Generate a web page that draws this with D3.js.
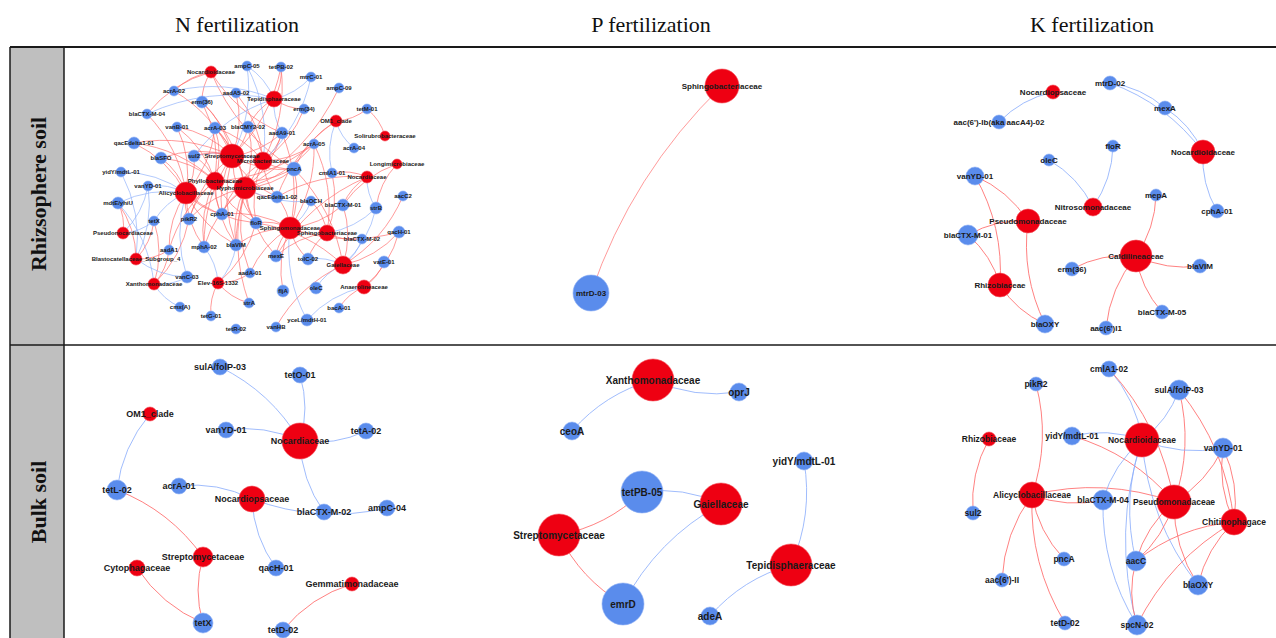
<!DOCTYPE html>
<html>
<head>
<meta charset="utf-8">
<script src="https://cdn.jsdelivr.net/npm/d3@7"></script>
<style>
  html, body { margin: 0; padding: 0; background: #fff; }
  svg { display: block; }
</style>
</head>
<body>
<svg id="fig" width="1276" height="638"></svg>
<script>
// ---- Figure headers ----
const columnTitles = ["N fertilization", "P fertilization", "K fertilization"];
const rowTitles = ["Rhizsophere soil", "Bulk soil"];

// ---- Networks: nodes [label, kind ("t" taxon / "g" gene), x, y, size] in panel layout units ----
// ---- Edges [source, target, sign ("p" positive / "n" negative)]; curves bow to the right of source -> target ----

const nRhizoNodes = [
  ["Nocardioidaceae","t",146,25,6], ["ampC-05","g",182,19,5], ["tetPB-02","g",216,20,5],
  ["mtrC-01","g",246,30,5], ["acrA-02","g",109,44,5], ["aadA5-02","g",171,46,5],
  ["Tepidisphaeraceae","t",209,52,8], ["ampC-09","g",274,41,5], ["erm(36)","g",137,55,6],
  ["erm(34)","g",239,62,5], ["tetM-01","g",302,62,5], ["blaCTX-M-04","g",82,67,5],
  ["vanB-01","g",112,80,5], ["acrA-03","g",150,81,6], ["blaCMY2-02","g",183,80,6],
  ["OM1_clade","t",271,74,6], ["aadA9-01","g",217,86,6], ["Solirubrobacteraceae","t",320,89,5],
  ["qacEdelta1-01","g",69,96,6], ["acrA-05","g",249,97,5], ["acrA-04","g",289,101,5],
  ["blaSFO","g",96,111,6], ["sul2","g",129,109,6], ["Streptomycetaceae","t",167,109,12],
  ["Microbacteriaceae","t",198,114,9], ["Longimicrobiaceae","t",332,117,5], ["yidY/mdtL-01","g",56,125,5],
  ["pncA","g",229,122,7], ["cmlA1-01","g",267,126,5], ["Nocardiaceae","t",302,130,6],
  ["Phyllobacteriaceae","t",150,134,9], ["vanYD-01","g",83,139,5], ["Alicyclobacillaceae","t",121,146,11],
  ["Hyphomicrobiaceae","t",180,141,11], ["aacC2","g",338,149,5], ["qacEdelta1-02","g",212,150,6],
  ["blaOCH","g",246,154,5], ["blaCTX-M-01","g",278,158,6], ["mdtE/yhiU","g",53,156,6],
  ["strB","g",311,161,6], ["tetX","g",89,174,5], ["pikR2","g",124,172,6],
  ["cphA-01","g",157,167,6], ["floR","g",191,176,6], ["Sphingomonadaceae","t",225,181,11],
  ["Sphingobacteriaceae","t",262,186,8], ["Pseudonocardiaceae","t",58,186,6], ["blaCTX-M-02","g",297,192,5],
  ["qacH-01","g",334,185,6], ["aadA1","g",104,203,5], ["mphA-02","g",139,200,6],
  ["blaVIM","g",171,198,6], ["mexE","g",211,209,6], ["tolC-02","g",243,212,6],
  ["Blastocatellaceae_Subgroup_4","t",71,212,6], ["Gaiellaceae","t",278,218,9], ["vatE-01","g",319,215,6],
  ["aadA-01","g",185,226,5], ["vanC-03","g",122,230,6], ["Elev-16S-1332","t",153,236,6],
  ["Xanthomonadaceae","t",89,237,6], ["fljA","g",218,244,6], ["oleC","g",251,241,6],
  ["Anaerolineaceae","t",299,240,7], ["strA","g",184,256,5], ["cmx(A)","g",115,260,5],
  ["bacA-01","g",274,261,5], ["tetG-01","g",146,269,5], ["yceL/mdtH-01","g",242,273,6],
  ["tetR-02","g",171,282,5], ["vanHB","g",211,280,5]
];
const nRhizoEdges = [
  ["Nocardioidaceae","erm(36)","p"], ["Nocardioidaceae","acrA-02","p"], ["Nocardioidaceae","aadA9-01","p"],
  ["Nocardioidaceae","pncA","p"], ["Nocardioidaceae","blaCTX-M-04","p"],
  ["Tepidisphaeraceae","tetPB-02","p"], ["Tepidisphaeraceae","mtrC-01","n"], ["Tepidisphaeraceae","erm(34)","p"],
  ["Tepidisphaeraceae","ampC-05","n"], ["Tepidisphaeraceae","blaCMY2-02","p"], ["Tepidisphaeraceae","sul2","n"],
  ["Tepidisphaeraceae","aadA9-01","n"], ["Tepidisphaeraceae","acrA-02","n"], ["Tepidisphaeraceae","blaCTX-M-04","n"],
  ["OM1_clade","tetM-01","p"], ["OM1_clade","acrA-04","n"], ["OM1_clade","cmlA1-01","n"],
  ["OM1_clade","pncA","p"], ["OM1_clade","qacEdelta1-02","p"], ["Solirubrobacteraceae","tetM-01","p"],
  ["Longimicrobiaceae","strB","p"], ["Longimicrobiaceae","blaCTX-M-01","p"],
  ["Nocardiaceae","cmlA1-01","p"], ["Nocardiaceae","strB","n"], ["Nocardiaceae","blaCTX-M-01","p"],
  ["Nocardiaceae","qacEdelta1-02","p"], ["Nocardiaceae","mexE","p"],
  ["Gaiellaceae","blaCTX-M-02","n"], ["Gaiellaceae","qacH-01","p"], ["Gaiellaceae","strB","n"],
  ["Gaiellaceae","oleC","n"], ["Gaiellaceae","tolC-02","n"], ["Gaiellaceae","vanHB","p"],
  ["Gaiellaceae","blaCTX-M-01","p"], ["Gaiellaceae","aacC2","p"], ["Gaiellaceae","pncA","p"], ["Gaiellaceae","floR","p"],
  ["Anaerolineaceae","vatE-01","p"], ["Anaerolineaceae","bacA-01","p"], ["Anaerolineaceae","yceL/mdtH-01","n"],
  ["Anaerolineaceae","qacH-01","p"],
  ["Sphingobacteriaceae","strB","n"], ["Sphingobacteriaceae","blaOCH","p"], ["Sphingobacteriaceae","cmlA1-01","p"],
  ["Sphingobacteriaceae","acrA-05","p"], ["Sphingobacteriaceae","tolC-02","p"], ["Sphingobacteriaceae","blaCTX-M-02","p"],
  ["Sphingobacteriaceae","mexE","p"],
  ["Sphingomonadaceae","pncA","p"], ["Sphingomonadaceae","qacEdelta1-02","p"], ["Sphingomonadaceae","floR","p"],
  ["Sphingomonadaceae","mexE","p"], ["Sphingomonadaceae","fljA","p"], ["Sphingomonadaceae","tolC-02","p"],
  ["Sphingomonadaceae","aadA-01","p"], ["Sphingomonadaceae","blaVIM","p"], ["Sphingomonadaceae","acrA-05","p"],
  ["Sphingomonadaceae","blaCTX-M-01","p"], ["Sphingomonadaceae","cphA-01","p"], ["Sphingomonadaceae","qacH-01","p"],
  ["Sphingomonadaceae","aadA9-01","p"], ["Sphingomonadaceae","blaOCH","n"], ["Sphingomonadaceae","yceL/mdtH-01","n"],
  ["Hyphomicrobiaceae","pncA","p"], ["Hyphomicrobiaceae","qacEdelta1-02","p"], ["Hyphomicrobiaceae","cphA-01","p"],
  ["Hyphomicrobiaceae","floR","p"], ["Hyphomicrobiaceae","blaVIM","p"], ["Hyphomicrobiaceae","mphA-02","p"],
  ["Hyphomicrobiaceae","aadA9-01","p"], ["Hyphomicrobiaceae","ampC-09","p"], ["Hyphomicrobiaceae","acrA-05","p"],
  ["Hyphomicrobiaceae","blaCMY2-02","p"], ["Hyphomicrobiaceae","mexE","p"], ["Hyphomicrobiaceae","strA","p"],
  ["Hyphomicrobiaceae","aadA-01","p"], ["Hyphomicrobiaceae","pikR2","p"], ["Hyphomicrobiaceae","acrA-03","p"],
  ["Hyphomicrobiaceae","erm(36)","p"], ["Hyphomicrobiaceae","blaOCH","n"],
  ["Microbacteriaceae","aadA5-02","p"], ["Microbacteriaceae","blaCMY2-02","p"], ["Microbacteriaceae","erm(34)","p"],
  ["Microbacteriaceae","aadA9-01","p"], ["Microbacteriaceae","acrA-05","p"], ["Microbacteriaceae","pncA","p"],
  ["Microbacteriaceae","qacEdelta1-02","p"], ["Microbacteriaceae","cphA-01","p"], ["Microbacteriaceae","floR","p"],
  ["Microbacteriaceae","tetPB-02","p"], ["Microbacteriaceae","ampC-05","n"], ["Microbacteriaceae","mtrC-01","n"],
  ["Microbacteriaceae","sul2","n"], ["Microbacteriaceae","acrA-03","p"], ["Microbacteriaceae","blaVIM","p"],
  ["Streptomycetaceae","erm(36)","p"], ["Streptomycetaceae","acrA-03","p"], ["Streptomycetaceae","blaCMY2-02","p"],
  ["Streptomycetaceae","aadA9-01","p"], ["Streptomycetaceae","sul2","p"], ["Streptomycetaceae","qacEdelta1-01","p"],
  ["Streptomycetaceae","blaSFO","p"], ["Streptomycetaceae","vanB-01","p"], ["Streptomycetaceae","acrA-02","p"],
  ["Streptomycetaceae","aadA5-02","p"], ["Streptomycetaceae","cphA-01","p"], ["Streptomycetaceae","pncA","p"],
  ["Streptomycetaceae","floR","p"], ["Streptomycetaceae","pikR2","p"], ["Streptomycetaceae","blaVIM","p"],
  ["Streptomycetaceae","mphA-02","p"], ["Streptomycetaceae","qacEdelta1-02","p"], ["Streptomycetaceae","ampC-05","n"],
  ["Streptomycetaceae","tetPB-02","p"],
  ["Phyllobacteriaceae","acrA-03","p"], ["Phyllobacteriaceae","sul2","p"], ["Phyllobacteriaceae","pikR2","p"],
  ["Phyllobacteriaceae","cphA-01","p"], ["Phyllobacteriaceae","floR","p"], ["Phyllobacteriaceae","blaVIM","p"],
  ["Phyllobacteriaceae","vanB-01","p"], ["Phyllobacteriaceae","mphA-02","p"], ["Phyllobacteriaceae","blaSFO","p"],
  ["Phyllobacteriaceae","qacEdelta1-01","p"], ["Phyllobacteriaceae","aadA1","p"], ["Phyllobacteriaceae","pncA","p"],
  ["Phyllobacteriaceae","erm(36)","p"], ["Phyllobacteriaceae","acrA-05","p"],
  ["Alicyclobacillaceae","qacEdelta1-01","p"], ["Alicyclobacillaceae","blaSFO","p"], ["Alicyclobacillaceae","pikR2","p"],
  ["Alicyclobacillaceae","cphA-01","p"], ["Alicyclobacillaceae","mphA-02","p"], ["Alicyclobacillaceae","aadA1","p"],
  ["Alicyclobacillaceae","blaCTX-M-04","p"], ["Alicyclobacillaceae","sul2","p"], ["Alicyclobacillaceae","acrA-03","p"],
  ["Alicyclobacillaceae","vanB-01","p"], ["Alicyclobacillaceae","floR","p"], ["Alicyclobacillaceae","blaVIM","p"],
  ["Alicyclobacillaceae","vanYD-01","n"], ["Alicyclobacillaceae","yidY/mdtL-01","n"], ["Alicyclobacillaceae","tetX","n"],
  ["Alicyclobacillaceae","mdtE/yhiU","n"], ["Alicyclobacillaceae","vanC-03","n"],
  ["Elev-16S-1332","tetG-01","p"], ["Elev-16S-1332","strA","p"], ["Elev-16S-1332","mphA-02","n"],
  ["Elev-16S-1332","blaVIM","n"], ["Elev-16S-1332","floR","p"], ["Elev-16S-1332","aadA-01","p"],
  ["Xanthomonadaceae","tetX","p"], ["Xanthomonadaceae","aadA1","p"], ["Xanthomonadaceae","vanC-03","n"],
  ["Xanthomonadaceae","cmx(A)","n"], ["Xanthomonadaceae","pikR2","p"], ["Xanthomonadaceae","mdtE/yhiU","n"],
  ["Blastocatellaceae_Subgroup_4","tetX","p"], ["Blastocatellaceae_Subgroup_4","mdtE/yhiU","p"],
  ["Blastocatellaceae_Subgroup_4","vanC-03","n"], ["Blastocatellaceae_Subgroup_4","yidY/mdtL-01","n"],
  ["Blastocatellaceae_Subgroup_4","vanYD-01","n"], ["Blastocatellaceae_Subgroup_4","aadA1","p"],
  ["Pseudonocardiaceae","mdtE/yhiU","p"], ["Pseudonocardiaceae","tetX","n"], ["Pseudonocardiaceae","vanYD-01","n"]
];

const pRhizoNodes = [
  ["Sphingobacteriaceae","t",292,39,17], ["mtrD-03","g",161,246,18]
];
const pRhizoEdges = [
  ["Sphingobacteriaceae","mtrD-03","p"]
];

const kRhizoNodes = [
  ["Nocardiopsaceae","t",183,45,7], ["aac(6')-Ib(aka aacA4)-02","g",129,75,7], ["mtrD-02","g",240,36,7],
  ["mexA","g",295,61,7], ["Nocardioidaceae","t",333,105,12], ["cphA-01","g",347,164,7],
  ["floR","g",243,99,6], ["oleC","g",179,113,6], ["Nitrosomonadaceae","t",223,160,9],
  ["mepA","g",286,148,6], ["vanYD-01","g",105,129,9], ["Pseudomonadaceae","t",158,174,12],
  ["blaCTX-M-01","g",98,188,10], ["Rhizobiaceae","t",130,238,12], ["blaOXY","g",175,277,9],
  ["Caldilineaceae","t",266,209,16], ["erm(36)","g",202,222,7], ["blaVIM","g",330,219,7],
  ["blaCTX-M-05","g",292,265,7], ["aac(6')I1","g",236,281,7]
];
const kRhizoEdges = [
  ["Nocardiopsaceae","aac(6')-Ib(aka aacA4)-02","n"],
  ["mexA","mtrD-02","n"], ["Nocardioidaceae","mexA","n"], ["Nocardioidaceae","mtrD-02","n"],
  ["Nocardioidaceae","cphA-01","n"],
  ["Nitrosomonadaceae","oleC","n"], ["Nitrosomonadaceae","floR","n"],
  ["Caldilineaceae","mepA","p"], ["Caldilineaceae","erm(36)","p"], ["Caldilineaceae","blaVIM","p"],
  ["Caldilineaceae","blaCTX-M-05","p"], ["Caldilineaceae","aac(6')I1","p"],
  ["Pseudomonadaceae","vanYD-01","p"], ["Rhizobiaceae","vanYD-01","p"],
  ["Pseudomonadaceae","blaCTX-M-01","p"], ["Rhizobiaceae","blaCTX-M-01","p"],
  ["Pseudomonadaceae","blaOXY","p"], ["Rhizobiaceae","blaOXY","p"]
];

const nBulkNodes = [
  ["sulA/folP-03","g",155,22,8], ["tetO-01","g",235,30,8], ["OM1_clade","t",85,69,7],
  ["vanYD-01","g",161,85,8], ["Nocardiaceae","t",235,96,18], ["tetA-02","g",301,86,8],
  ["tetL-02","g",52,145,10], ["acrA-01","g",114,141,8], ["Nocardiopsaceae","t",187,154,13],
  ["blaCTX-M-02","g",259,167,8], ["ampC-04","g",322,163,8], ["Streptomycetaceae","t",138,212,10],
  ["Cytophagaceae","t",72,223,8], ["qacH-01","g",211,223,8], ["Gemmatimonadaceae","t",287,239,7],
  ["tetX","g",138,278,10], ["tetD-02","g",218,285,8]
];
const nBulkEdges = [
  ["Nocardiaceae","sulA/folP-03","n"], ["Nocardiaceae","tetO-01","n"], ["Nocardiaceae","vanYD-01","n"],
  ["Nocardiaceae","tetA-02","n"], ["Nocardiaceae","blaCTX-M-02","n"], ["OM1_clade","tetL-02","n"],
  ["Nocardiopsaceae","acrA-01","n"], ["Nocardiopsaceae","ampC-04","n"], ["Nocardiopsaceae","qacH-01","n"],
  ["Streptomycetaceae","tetL-02","p"], ["Streptomycetaceae","tetX","p"], ["Cytophagaceae","tetX","p"],
  ["Gemmatimonadaceae","tetD-02","p"]
];

const pBulkNodes = [
  ["Xanthomonadaceae","t",223,35,21], ["oprJ","g",309,47,9], ["ceoA","g",142,86,9],
  ["yidY/mdtL-01","g",374,116,9], ["tetPB-05","g",212,147,21], ["Gaiellaceae","t",291,159,21],
  ["Streptomycetaceae","t",129,190,21], ["Tepidisphaeraceae","t",361,220,21], ["emrD","g",193,259,21],
  ["adeA","g",280,271,9]
];
const pBulkEdges = [
  ["Xanthomonadaceae","ceoA","n"], ["Xanthomonadaceae","oprJ","n"], ["Gaiellaceae","tetPB-05","n"],
  ["Streptomycetaceae","tetPB-05","p"], ["Streptomycetaceae","emrD","p"], ["Gaiellaceae","emrD","n"],
  ["Tepidisphaeraceae","yidY/mdtL-01","n"], ["Tepidisphaeraceae","adeA","n"]
];

const kBulkNodes = [
  ["cmlA1-02","g",239,24,8], ["pikR2","g",166,39,7], ["sulA/folP-03","g",309,45,10],
  ["Rhizobiaceae","t",119,94,7], ["yidY/mdtL-01","g",202,91,9], ["Nocardioidaceae","t",272,95,17],
  ["vanYD-01","g",353,103,10], ["Alicyclobacillaceae","t",162,150,13], ["blaCTX-M-04","g",233,155,10],
  ["Pseudomonadaceae","t",304,157,17], ["Chitinophagace","t",364,177,13], ["sul2","g",103,168,7],
  ["pncA","g",194,214,7], ["aacC","g",266,216,10], ["aac(6')-II","g",132,235,7],
  ["blaOXY","g",328,240,10], ["tetD-02","g",195,278,7], ["spcN-02","g",267,280,10]
];
const kBulkEdges = [
  ["Rhizobiaceae","sul2","p"], ["Alicyclobacillaceae","pikR2","p"], ["Alicyclobacillaceae","aac(6')-II","p"],
  ["Alicyclobacillaceae","tetD-02","p"], ["Alicyclobacillaceae","pncA","p"], ["Alicyclobacillaceae","blaCTX-M-04","p"],
  ["Pseudomonadaceae","Alicyclobacillaceae","p"], ["Nocardioidaceae","yidY/mdtL-01","n"],
  ["Pseudomonadaceae","yidY/mdtL-01","p"], ["Nocardioidaceae","cmlA1-02","n"], ["Pseudomonadaceae","cmlA1-02","p"],
  ["Nocardioidaceae","sulA/folP-03","n"], ["Pseudomonadaceae","sulA/folP-03","p"], ["Chitinophagace","sulA/folP-03","p"],
  ["Nocardioidaceae","vanYD-01","n"], ["Pseudomonadaceae","vanYD-01","p"], ["vanYD-01","Chitinophagace","p"],
  ["Chitinophagace","vanYD-01","p"], ["Nocardioidaceae","blaCTX-M-04","n"], ["Nocardioidaceae","aacC","n"],
  ["Nocardioidaceae","spcN-02","n"], ["Nocardioidaceae","blaOXY","n"], ["Pseudomonadaceae","aacC","p"],
  ["aacC","Pseudomonadaceae","p"], ["Pseudomonadaceae","blaOXY","p"], ["Chitinophagace","aacC","p"],
  ["Chitinophagace","blaOXY","p"], ["Chitinophagace","spcN-02","p"], ["aacC","spcN-02","p"],
  ["blaCTX-M-04","spcN-02","n"]
];

// ---- Grid of panels ----
const grid = { left: 10, labelW: 54, top: 47, bottom: 638, right: 1276 };
const colX = [65, 430, 870, 1276];
const rowY = [47, 345, 638];

const panels = [
  { row: 0, col: 0, nodes: nRhizoNodes, edges: nRhizoEdges, font: 6,   bend: 0.16, ew: 0.8 },
  { row: 0, col: 1, nodes: pRhizoNodes, edges: pRhizoEdges, font: 8,   bend: 0.12, ew: 0.8 },
  { row: 0, col: 2, nodes: kRhizoNodes, edges: kRhizoEdges, font: 8,   bend: 0.15, ew: 1 },
  { row: 1, col: 0, nodes: nBulkNodes,  edges: nBulkEdges,  font: 9,   bend: 0.15, ew: 1 },
  { row: 1, col: 1, nodes: pBulkNodes,  edges: pBulkEdges,  font: 10,  bend: 0.15, ew: 1 },
  { row: 1, col: 2, nodes: kBulkNodes,  edges: kBulkEdges,  font: 8.5, bend: 0.15, ew: 1 }
];

const colors = {
  taxon: "#ee0012", gene: "#5a8cec",
  pos: "#ff6b6b", neg: "#8fb0fb"
};

const svg = d3.select("#fig");

// Column headings
svg.selectAll("text.coltitle").data(columnTitles).join("text")
  .attr("class", "coltitle")
  .attr("x", (d, i) => [237, 651, 1092][i])
  .attr("y", 32)
  .attr("text-anchor", "middle")
  .attr("font-family", "'Liberation Serif', 'Times New Roman', serif")
  .attr("font-size", 22)
  .attr("fill", "#111")
  .text(d => d);

// Row label band
svg.append("rect")
  .attr("x", grid.left).attr("y", grid.top)
  .attr("width", grid.labelW).attr("height", grid.bottom - grid.top)
  .attr("fill", "#bfbfbf");

const rowLabelY = [194, 502];
svg.selectAll("text.rowtitle").data(rowTitles).join("text")
  .attr("class", "rowtitle")
  .attr("transform", (d, i) => `translate(${grid.left + grid.labelW / 2 + 1},${rowLabelY[i]}) rotate(-90)`)
  .attr("text-anchor", "middle")
  .attr("dominant-baseline", "central")
  .attr("font-family", "'Liberation Serif', 'Times New Roman', serif")
  .attr("font-weight", "bold")
  .attr("font-size", 22)
  .attr("fill", "#111")
  .text(d => d);

// Table rules
const rules = svg.append("g").attr("stroke", "#1a1a1a").attr("fill", "none");
rules.append("line").attr("x1", grid.left).attr("x2", grid.right).attr("y1", grid.top).attr("y2", grid.top).attr("stroke-width", 2);
rules.append("line").attr("x1", grid.left).attr("x2", grid.right).attr("y1", rowY[1]).attr("y2", rowY[1]).attr("stroke-width", 1.5);
rules.append("line").attr("x1", grid.left).attr("x2", grid.left).attr("y1", grid.top).attr("y2", grid.bottom).attr("stroke-width", 1.5);
rules.append("line").attr("x1", grid.left + grid.labelW).attr("x2", grid.left + grid.labelW).attr("y1", grid.top).attr("y2", grid.bottom).attr("stroke-width", 1.5);

// Networks
const rScale = d3.scaleLinear().domain([0, 20]).range([0, 20]);

panels.forEach(p => {
  const x = d3.scaleLinear().domain([0, colX[p.col + 1] - colX[p.col]]).range([colX[p.col], colX[p.col + 1]]);
  const y = d3.scaleLinear().domain([0, rowY[p.row + 1] - rowY[p.row]]).range([rowY[p.row], rowY[p.row + 1]]);
  const nodes = p.nodes.map(([label, kind, nx, ny, size]) => ({ label, kind, x: x(nx), y: y(ny), r: rScale(size) }));
  const byId = new Map(nodes.map(n => [n.label, n]));
  const g = svg.append("g");

  // quadratic curve bowing to the right (clockwise side) of the source -> target direction
  const arc = ([s, t]) => {
    const a = byId.get(s), b = byId.get(t);
    const mx = (a.x + b.x) / 2, my = (a.y + b.y) / 2;
    const dx = b.x - a.x, dy = b.y - a.y;
    const cx = mx - dy * p.bend, cy = my + dx * p.bend;
    return `M${a.x},${a.y}Q${cx},${cy} ${b.x},${b.y}`;
  };

  g.append("g").attr("fill", "none")
    .selectAll("path").data(p.edges).join("path")
    .attr("d", arc)
    .attr("stroke", d => d[2] === "p" ? colors.pos : colors.neg)
    .attr("stroke-opacity", 0.85)
    .attr("stroke-width", p.ew);

  g.append("g").selectAll("circle").data(nodes).join("circle")
    .attr("cx", d => d.x).attr("cy", d => d.y).attr("r", d => d.r)
    .attr("fill", d => d.kind === "t" ? colors.taxon : colors.gene)
    .attr("stroke", d => d.kind === "t" ? "#f5505a" : "#8fb0f5")
    .attr("stroke-width", 0.6);

  g.append("g").selectAll("text").data(nodes).join("text")
    .attr("x", d => d.x).attr("y", d => d.y)
    .attr("text-anchor", "middle")
    .attr("dominant-baseline", "central")
    .attr("font-family", "'Liberation Sans', Arial, sans-serif")
    .attr("font-weight", "bold")
    .attr("font-size", p.font)
    .attr("fill", "#1a1a1a")
    .text(d => d.label);
});
</script>
</body>
</html>
